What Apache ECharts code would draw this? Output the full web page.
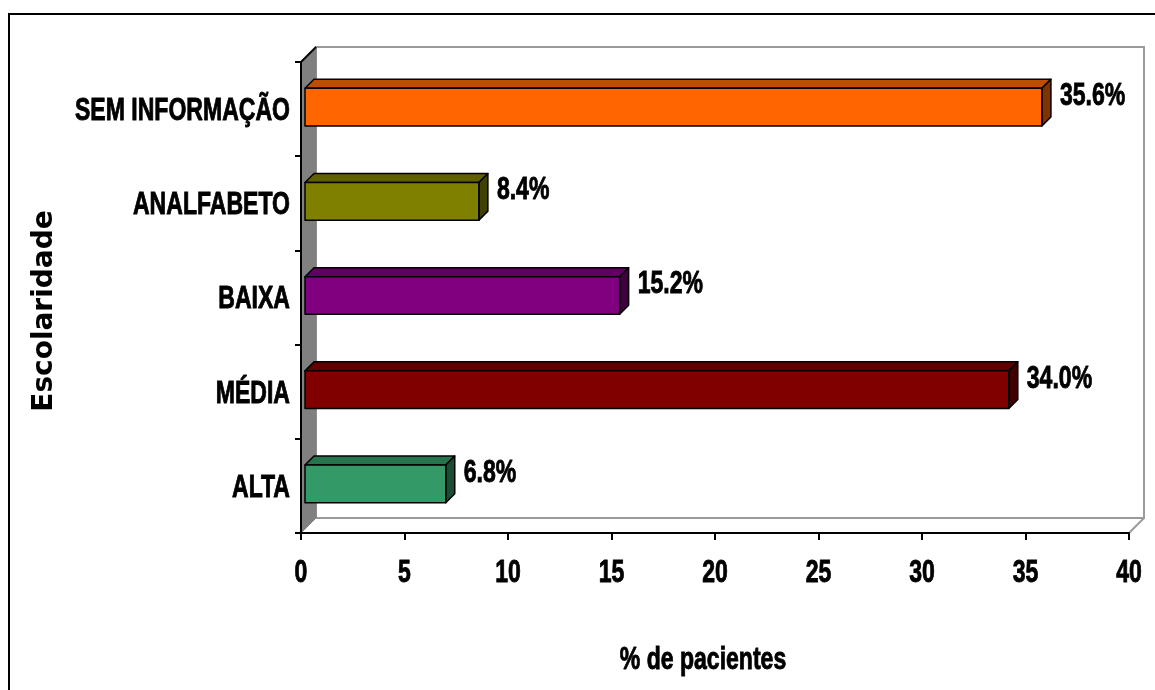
<!DOCTYPE html>
<html><head><meta charset="utf-8">
<script src="https://cdn.jsdelivr.net/npm/echarts@6/dist/echarts.min.js"></script>
<style>html,body{margin:0;padding:0;background:#fff}#c{width:1155px;height:690px}</style>
</head><body><div id="c"></div>
<script>
const categories = ['ALTA', 'MÉDIA', 'BAIXA', 'ANALFABETO', 'SEM INFORMAÇÃO'];
const values = [6.8, 34.0, 15.2, 8.4, 35.6];
const barColors = ['#339966', '#800000', '#800080', '#808000', '#FF6600'];
const xTicks = [0, 5, 10, 15, 20, 25, 30, 35, 40];
const xTitle = '% de pacientes';
const yTitle = 'Escolaridade';

// Arial-Narrow-like look: Arial-metric bold font compressed horizontally
const NFONT = 'bold 32px "Liberation Sans",Arial,sans-serif';
const NSCALE = 0.72;
const WALL_D = 15;
const BAR_D = 9, BAR_OFF = 4;

function shade(hex, f) {
  const n = parseInt(hex.slice(1), 16);
  const r = Math.round(((n >> 16) & 255) * f), g = Math.round(((n >> 8) & 255) * f), b = Math.round((n & 255) * f);
  return 'rgb(' + r + ',' + g + ',' + b + ')';
}

function narrowStyle(text, align) {
  return { text: text, x: 0, y: 0, align: align, verticalAlign: 'middle', font: NFONT, fill: '#000',
    stroke: '#000', lineWidth: 0.9 };
}

function narrowText(text, x, y, align) {
  return { type: 'text', x: x, y: y, scaleX: NSCALE, style: narrowStyle(text, align) };
}

function renderWalls(params, api) {
  const cs = params.coordSys;
  const x0 = cs.x, y0 = cs.y, x1 = cs.x + cs.width, y1 = cs.y + cs.height;
  const d = WALL_D;
  return { type: 'group', children: [
    { type: 'polygon', shape: { points: [[x0 + d, y0 - d], [x1 + d, y0 - d], [x1 + d, y1 - d], [x0 + d, y1 - d]] },
      style: { fill: '#fff', stroke: '#9a9a9a', lineWidth: 2 } },
    { type: 'polygon', shape: { points: [[x0, y0], [x0 + d, y0 - d], [x0 + d, y1 - d], [x0, y1]] },
      style: { fill: '#808080', stroke: '#808080', lineWidth: 1 } },
    { type: 'line', shape: { x1: x1, y1: y1, x2: x1 + d, y2: y1 - d }, style: { stroke: '#9a9a9a', lineWidth: 2 } },
    { type: 'line', shape: { x1: x0, y1: y0, x2: x0 + d, y2: y0 - d }, style: { stroke: '#000', lineWidth: 2 } }
  ] };
}

function renderBar(params, api) {
  const v = api.value(0), ci = api.value(1);
  const p0 = api.coord([0, ci]), p1 = api.coord([v, ci]);
  const band = api.size([0, 1])[1];
  const h = band * 0.40;
  const yc = p0[1] - 2;
  const xa = p0[0] + BAR_OFF, xb = p1[0] + BAR_OFF;
  const yt = yc - h / 2, yb = yc + h / 2;
  const d = BAR_D;
  const col = barColors[params.dataIndex];
  const st = { stroke: '#000', lineWidth: 1.5, lineJoin: 'round' };
  return { type: 'group', children: [
    { type: 'polygon', shape: { points: [[xa, yt], [xb, yt], [xb + d, yt - d], [xa + d, yt - d]] },
      style: Object.assign({ fill: shade(col, 0.75) }, st) },
    { type: 'polygon', shape: { points: [[xb, yt], [xb + d, yt - d], [xb + d, yb - d], [xb, yb]] },
      style: Object.assign({ fill: shade(col, 0.5) }, st) },
    { type: 'rect', shape: { x: xa, y: yt, width: xb - xa, height: h },
      style: Object.assign({ fill: col }, st) },
    narrowText(v.toFixed(1) + '%', xb + d + 9, yc - 11, 'left')
  ] };
}

function renderXLabel(params, api) {
  const v = api.value(0);
  const cs = params.coordSys;
  const p = api.coord([v, 0]);
  return narrowText(String(xTicks[params.dataIndex]), p[0], cs.y + cs.height + 40, 'center');
}

function renderYLabel(params, api) {
  const ci = api.value(1);
  const cs = params.coordSys;
  const p = api.coord([0, ci]);
  return narrowText(categories[params.dataIndex], cs.x - 11, p[1] + 2, 'right');
}

const chart = echarts.init(document.getElementById('c'), null, { renderer: 'canvas' });
chart.setOption({
  backgroundColor: '#fff',
  animation: false,
  graphic: [
    { type: 'rect', shape: { x: 9, y: 14, width: 1200, height: 720 }, style: { fill: 'none', stroke: '#000', lineWidth: 2 }, z: 100 },
    { type: 'text', x: 703, y: 660, scaleX: NSCALE, z: 100, style: narrowStyle(xTitle, 'center') },
    { type: 'text', x: 45, y: 311, rotation: Math.PI / 2, z: 100,
      style: { text: yTitle, x: 0, y: 0, align: 'center', verticalAlign: 'middle', font: 'bold 28px "DejaVu Sans",sans-serif', fill: '#000' } }
  ],
  grid: { left: 301, right: 26, top: 62, bottom: 157, containLabel: false, outerBoundsMode: 'none' },
  xAxis: {
    type: 'value', min: xTicks[0], max: xTicks[xTicks.length - 1], interval: xTicks[1] - xTicks[0],
    axisLine: { show: true, lineStyle: { color: '#000', width: 2 } },
    axisTick: { show: true, length: 7, lineStyle: { color: '#000', width: 2 } },
    splitLine: { show: false },
    axisLabel: { show: false }
  },
  yAxis: {
    type: 'category', data: categories,
    axisLine: { show: true, lineStyle: { color: '#000', width: 2 } },
    axisTick: { show: true, length: 6, lineStyle: { color: '#000', width: 2 } },
    splitLine: { show: false },
    axisLabel: { show: false }
  },
  series: [
    { type: 'custom', z: -1, silent: true, clip: false, renderItem: renderWalls, data: [[0, 0]] },
    { type: 'custom', z: 3, clip: false, renderItem: renderBar, data: values.map((v, i) => [v, i]) },
    { type: 'custom', z: 3, silent: true, clip: false, renderItem: renderXLabel, data: xTicks.map(t => [t, 0]) },
    { type: 'custom', z: 3, silent: true, clip: false, renderItem: renderYLabel, data: categories.map((c, i) => [0, i]) }
  ]
});
</script></body></html>
